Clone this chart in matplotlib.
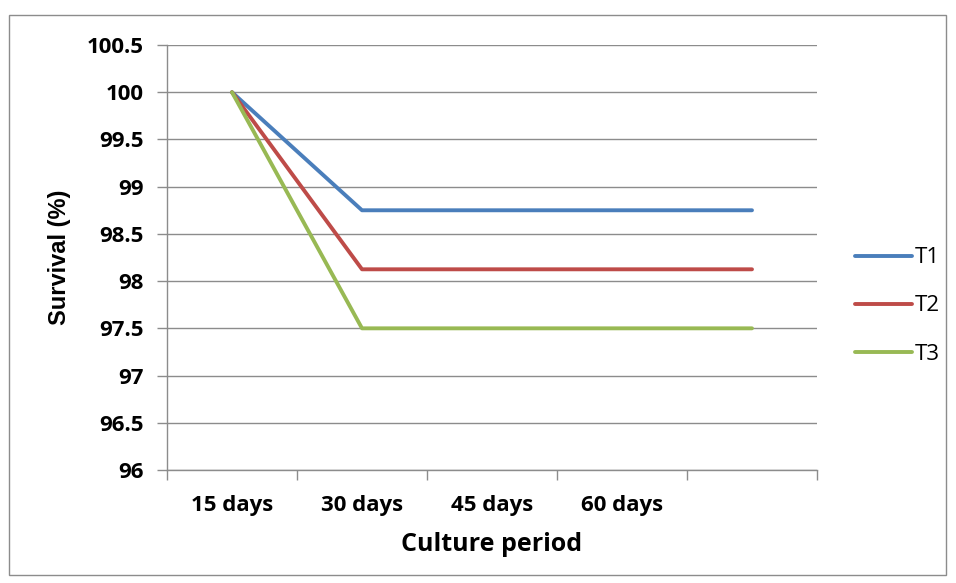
import matplotlib
matplotlib.use("Agg")
import matplotlib.pyplot as plt
from matplotlib.patches import Rectangle
import numpy as np

categories = ["15 days", "30 days", "45 days", "60 days", ""]
t1 = [100, 98.75, 98.75, 98.75, 98.75]
t2 = [100, 98.125, 98.125, 98.125, 98.125]
t3 = [100, 97.5, 97.5, 97.5, 97.5]
series_names = ["T1", "T2", "T3"]
colors = ["#4A7EBB", "#BE4B48", "#98B954"]
yticks = [96, 96.5, 97, 97.5, 98, 98.5, 99, 99.5, 100, 100.5]
ytick_labels = ["96", "96.5", "97", "97.5", "98", "98.5", "99", "99.5", "100", "100.5"]

plt.rcParams['font.family'] = ['Open Sans', 'DejaVu Sans']

fig = plt.figure(figsize=(9.56, 5.83), dpi=100)
fig.patches.append(Rectangle((9/956, 8/583), 937/956, 560/583, transform=fig.transFigure,
                             fill=False, edgecolor="#8c8c8c", linewidth=1.0))
ax = fig.add_axes([167/956, 113/583, 650/956, 425/583])

x = np.arange(len(categories))
for vals, name, c in zip([t1, t2, t3], series_names, colors):
    ax.plot(x, vals, color=c, linewidth=2.8, label=name, solid_capstyle='round')

ax.set_xlim(-0.5, len(categories) - 0.5)
ax.set_ylim(96, 100.5)
ax.set_yticks(yticks)
ax.set_yticklabels(ytick_labels, fontsize=16, fontweight='bold')
ax.set_xticks(np.arange(len(categories) + 1) - 0.5)
ax.set_xticklabels([])
ax.set_xticks(x, minor=True)
ax.set_xticklabels(categories, minor=True, fontsize=16, fontweight='bold')
ax.tick_params(axis='x', which='minor', length=0, pad=18)
ax.tick_params(axis='x', which='major', length=7, color="#8c8c8c", width=1)
ax.tick_params(axis='y', length=7, color="#8c8c8c", width=1, pad=10)
ax.grid(axis='y', color="#8c8c8c", linewidth=1)
ax.set_axisbelow(True)
for s in ['top', 'right']:
    ax.spines[s].set_visible(False)
for s in ['left', 'bottom']:
    ax.spines[s].set_color("#8c8c8c")
    ax.spines[s].set_linewidth(1)

ax.set_ylabel("Survival (%)", fontsize=17, fontweight='bold',
              family=['Liberation Sans', 'DejaVu Sans'])
ax.yaxis.set_label_coords(-0.165, 0.5)
ax.yaxis.label.set_verticalalignment('center')
ax.set_xlabel("Culture period", fontsize=18, fontweight='bold')
ax.xaxis.set_label_coords(0.5, -0.176)
ax.xaxis.label.set_verticalalignment('center')

leg = ax.legend(loc='center left', bbox_to_anchor=(1.0585, 0.386), frameon=False,
                fontsize=16, handlelength=2.57, handletextpad=0.12, labelspacing=1.22,
                borderaxespad=0, borderpad=0)

fig.savefig("out.png", dpi=100)
